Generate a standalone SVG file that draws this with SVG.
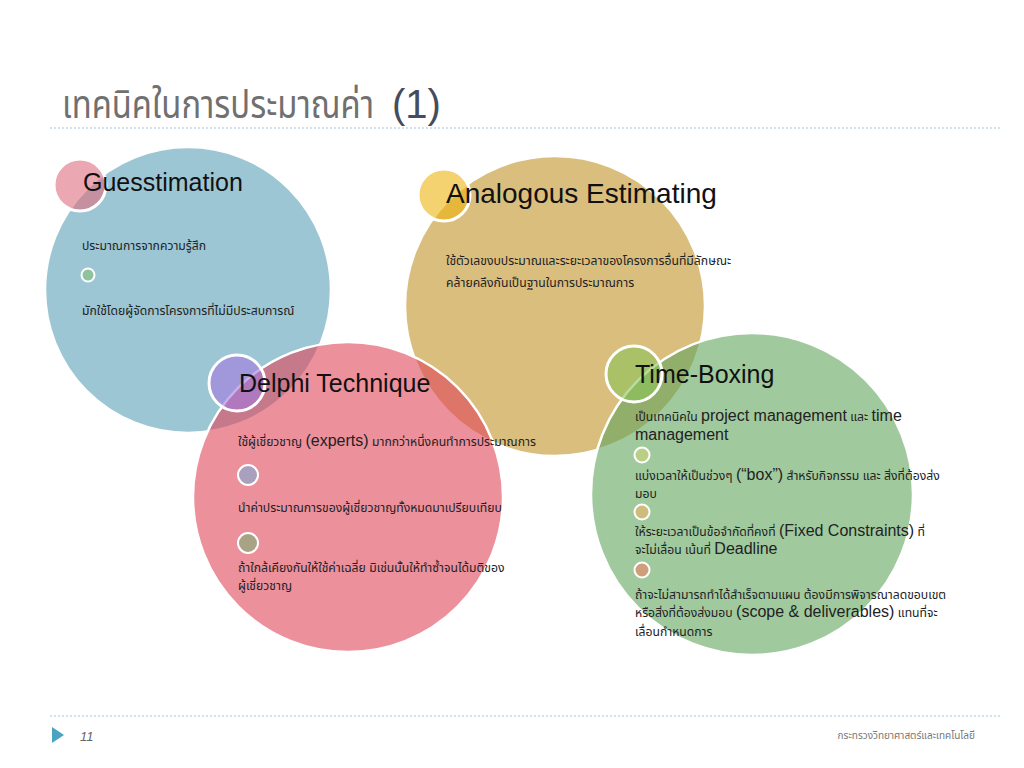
<svg xmlns="http://www.w3.org/2000/svg" width="1024" height="768" viewBox="0 0 1024 768">
<style>
.big{fill-opacity:0.6}
.sm{fill-opacity:0.6}
.ring{fill:none;stroke:#fff;stroke-width:2.5}
.ring2{fill:none;stroke:#fff;stroke-width:3}
.hd{font-family:"Liberation Sans",Arial,sans-serif;fill:#111}
.th{font-family:"Liberation Sans","Noto Sans Thai","Noto Sans",sans-serif;font-size:12.2px;fill:#222}
.en{font-family:"Liberation Sans",Arial,sans-serif;font-size:16px}
.dot{stroke:#fff;stroke-width:2}
.rule{stroke:#9ccad6;stroke-width:1.2;stroke-dasharray:2 2}
</style>
<rect width="1024" height="768" fill="#fff"/>
<text transform="translate(62,118) scale(0.82,1)" x="0" y="0" style="font-family:'Liberation Sans','Noto Sans Thai',sans-serif;font-size:40px;fill:#707070">เทคนิคในการประมาณค่า</text>
<text x="392" y="118" style="font-family:'Liberation Sans',sans-serif;font-size:40px;fill:#454c5c">(1)</text>
<line class="rule" x1="50" y1="128" x2="1000" y2="128"/>
<g id="guesstimation">
<circle class="big" cx="188" cy="290" r="143" fill="#5ca0b7"/>
<circle class="ring" cx="188" cy="290" r="143"/>
<circle class="sm" cx="80" cy="185" r="26" fill="#df6e7f"/>
<circle class="ring2" cx="80" cy="185" r="26"/>
<text class="hd" x="83" y="191" font-size="25">Guesstimation</text>
<text class="th" x="82" y="250">ประมาณการจากความรู้สึก</text>
<circle class="dot" cx="88" cy="275" r="6.5" fill="#8fc39e"/>
<text class="th" x="82" y="315">มักใช้โดยผู้จัดการโครงการที่ไม่มีประสบการณ์</text>
</g>
<g id="analogous">
<circle class="big" cx="555" cy="306" r="150" fill="#c19328"/>
<circle class="ring" cx="555" cy="306" r="150"/>
<circle class="sm" cx="444" cy="195" r="26" fill="#edb411"/>
<circle class="ring2" cx="444" cy="195" r="26"/>
<text class="hd" x="446" y="203" font-size="28">Analogous Estimating</text>
<text class="th" x="446" y="265">ใช้ตัวเลขงบประมาณและระยะเวลาของโครงการอื่นที่มีลักษณะ</text>
<text class="th" x="446" y="287">คล้ายคลึงกันเป็นฐานในการประมาณการ</text>
</g>
<g id="delphi">
<circle class="big" cx="348" cy="497" r="155" fill="#df465a"/>
<circle class="ring" cx="348" cy="497" r="155"/>
<circle class="sm" cx="237" cy="383" r="28" fill="#a179e0"/>
<circle class="ring2" cx="237" cy="383" r="28"/>
<text class="hd" x="239" y="392" font-size="25">Delphi Technique</text>
<text class="th" x="238" y="446">ใช้ผู้เชี่ยวชาญ <tspan class="en">(experts)</tspan> มากกว่าหนึ่งคนทำการประมาณการ</text>
<circle class="dot" cx="248" cy="475" r="10" fill="#a9a0bd"/>
<text class="th" x="238" y="512">นำค่าประมาณการของผู้เชี่ยวชาญทั้งหมดมาเปรียบเทียบ</text>
<circle class="dot" cx="248" cy="543" r="10" fill="#a9a385"/>
<text class="th" x="238" y="572">ถ้าใกล้เคียงกันให้ใช้ค่าเฉลี่ย มิเช่นนั้นให้ทำซ้ำจนได้มติของ</text>
<text class="th" x="238" y="590">ผู้เชี่ยวชาญ</text>
</g>
<g id="timeboxing">
<circle class="big" cx="752" cy="494" r="161" fill="#61a55d"/>
<circle class="ring" cx="752" cy="494" r="161"/>
<circle class="sm" cx="634" cy="374" r="28" fill="#8cc35a"/>
<circle class="ring2" cx="634" cy="374" r="28"/>
<text class="hd" x="635" y="383" font-size="25">Time-Boxing</text>
<text class="th" x="635" y="421">เป็นเทคนิคใน <tspan class="en">project management</tspan> และ <tspan class="en">time</tspan></text>
<text class="th" x="635" y="440"><tspan class="en">management</tspan></text>
<circle class="dot" cx="642" cy="455" r="7.5" fill="#b9cf85"/>
<text class="th" x="635" y="480">แบ่งเวลาให้เป็นช่วงๆ <tspan class="en">(“box”)</tspan> สำหรับกิจกรรม และ สิ่งที่ต้องส่ง</text>
<text class="th" x="635" y="498">มอบ</text>
<circle class="dot" cx="642" cy="512" r="7.5" fill="#cdbc7c"/>
<text class="th" x="635" y="536">ให้ระยะเวลาเป็นข้อจำกัดที่คงที่ <tspan class="en">(Fixed Constraints)</tspan> ที่</text>
<text class="th" x="635" y="554">จะไม่เลื่อน เน้นที่ <tspan class="en">Deadline</tspan></text>
<circle class="dot" cx="642" cy="570" r="7.5" fill="#cf9f7c"/>
<text class="th" x="635" y="599">ถ้าจะไม่สามารถทำได้สำเร็จตามแผน ต้องมีการพิจารณาลดขอบเขต</text>
<text class="th" x="635" y="617">หรือสิ่งที่ต้องส่งมอบ <tspan class="en">(scope &amp; deliverables)</tspan> แทนที่จะ</text>
<text class="th" x="635" y="636">เลื่อนกำหนดการ</text>
</g>
<g id="connectors"></g>
<line class="rule" x1="50" y1="716" x2="1000" y2="716"/>
<polygon points="52,727 52,743 64,735" fill="#4aa3c2"/>
<text x="80" y="741" style="font-family:'Liberation Sans',sans-serif;font-size:13px;font-style:italic;fill:#666">11</text>
<text x="975" y="739" text-anchor="end" style="font-family:'Liberation Sans','Noto Sans Thai',sans-serif;font-size:10px;fill:#777">กระทรวงวิทยาศาสตร์และเทคโนโลยี</text>
</svg>
